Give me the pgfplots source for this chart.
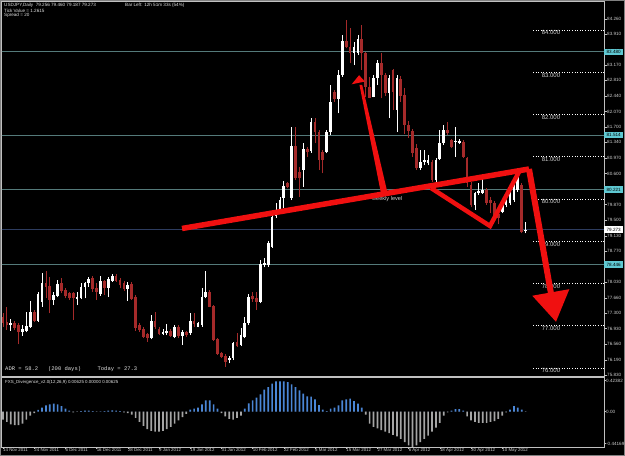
\documentclass[border=0pt]{standalone}
\usepackage{pgfplots}
\pgfplotsset{compat=1.18}
\usepackage{pgfplotstable}
\usetikzlibrary{arrows.meta}
\usepackage{fontspec}
\setmainfont{Liberation Sans}
\setmonofont{Liberation Mono}
\newcommand\fs[1]{\fontsize{#1}{#1}\selectfont}
\definecolor{bear}{RGB}{165,42,42}
\definecolor{teal1}{RGB}{84,122,122}
\definecolor{navyl}{RGB}{45,60,95}
\definecolor{frame}{RGB}{192,192,192}
\definecolor{txt}{RGB}{205,205,205}
\definecolor{hblue}{RGB}{74,134,214}
\definecolor{hgray}{RGB}{165,165,165}
\definecolor{boxteal}{RGB}{95,200,210}
\definecolor{arrowred}{RGB}{240,16,16}

\pgfplotstableread{
i o h l c
2 77.017 77.159 76.876 77.073
5 76.844 77.017 76.765 76.915
6 76.876 77.333 76.844 76.994
7 76.978 77.586 76.954 77.333
9 77.112 77.806 77.096 77.743
10 77.57 78.24 77.451 78.004
13 77.609 77.806 77.491 77.728
14 77.704 78.083 77.672 77.988
19 77.649 77.806 77.491 77.688
20 77.649 78.004 77.633 77.925
21 77.925 78.043 77.649 78.019
22 78.004 78.161 77.925 78.098
25 77.743 78.177 77.712 78.059
27 77.901 78.161 77.688 78.098
28 78.059 78.216 78.043 78.177
32 77.862 78.043 77.586 77.964
38 76.702 77.254 76.68 77.12
41 76.82 76.915 76.781 76.859
42 76.82 77.041 76.781 76.875
44 76.741 77.017 76.702 76.962
46 76.765 76.899 76.544 76.844
48 76.82 77.309 76.781 77.12
50 76.978 77.096 76.962 77.057
51 77.017 77.885 76.978 77.688
52 77.688 78.295 77.649 77.791
58 76.189 76.284 76.11 76.228
59 76.228 76.623 76.189 76.599
61 76.544 76.938 76.52 76.781
62 76.741 77.215 76.702 77.057
63 77.057 77.751 77.017 77.688
66 77.57 78.556 77.53 78.453
67 78.43 78.60 78.38 78.48
68 78.437 79.0 78.4 78.966
69 78.871 79.65 78.85 79.581
70 79.6 79.913 79.55 79.75
71 79.75 80.05 79.7 79.98
72 80.015 80.426 79.779 80.315
74 80.015 81.712 79.976 81.254
77 80.686 81.317 80.292 81.175
79 81.136 81.909 81.096 81.814
83 81.12 81.633 81.08 81.578
84 81.578 82.698 81.514 82.288
86 82.359 83.053 82.027 82.935
87 82.935 83.881 82.895 83.739
90 83.447 83.723 83.171 83.605
91 83.447 83.881 83.408 83.779
95 82.422 82.935 82.406 82.856
96 82.856 83.29 82.698 83.226
99 82.501 82.935 81.909 82.856
101 82.106 82.935 81.593 82.856
107 80.73 81.16 80.69 80.88
108 80.88 81.16 80.8 80.92
109 80.86 81.04 80.80 80.92
111 80.45 80.96 80.41 80.92
112 80.96 81.633 80.92 81.317
113 81.317 81.751 81.278 81.633
116 81.35 81.712 81.0 81.38
117 81.34 81.42 81.3 81.38
121 79.857 80.173 79.74 80.134
122 80.15 80.37 80.1 80.19
123 80.15 80.53 80.13 80.21
128 79.7 79.94 79.66 79.897
129 79.85 80.17 79.8 80.134
130 79.897 80.252 79.857 80.213
131 79.976 80.489 79.936 80.41
132 80.213 80.568 80.173 80.528
134 79.256 79.46 79.187 79.273
}\upc

\pgfplotstableread{
i o h l c
0 77.215 77.294 76.978 77.057
1 77.096 77.451 76.899 77.017
3 77.057 77.112 76.899 76.954
4 77.017 77.057 76.56 76.86
8 77.333 77.373 77.081 77.112
11 78.004 78.296 77.649 77.925
12 77.948 78.161 77.294 77.609
15 78.019 78.122 77.767 77.822
16 77.846 77.885 77.649 77.712
17 77.767 77.806 77.609 77.664
18 77.783 77.806 77.136 77.649
23 78.122 78.177 77.806 77.862
24 77.885 78.004 77.609 77.806
26 78.059 78.083 77.728 77.901
29 78.177 78.216 78.043 78.059
30 78.083 78.122 77.885 77.964
31 78.004 78.059 77.822 77.862
33 77.98 78.043 77.609 77.633
34 77.69 77.73 76.876 76.94
35 77.017 77.057 76.859 76.899
36 76.915 76.978 76.702 76.741
37 76.796 76.82 76.623 76.702
39 77.12 77.333 76.915 76.962
40 76.915 76.962 76.781 76.804
43 76.875 76.915 76.741 76.765
45 76.962 77.017 76.702 76.765
47 76.859 76.883 76.741 76.781
49 77.12 77.293 76.978 77.041
53 77.806 77.846 77.436 77.451
54 77.467 77.491 76.647 76.662
55 76.678 76.702 76.307 76.331
56 76.363 76.386 76.228 76.268
57 76.284 76.331 76.031 76.149
60 76.623 76.82 76.505 76.528
64 77.712 77.806 77.57 77.633
65 77.664 77.806 77.372 77.57
73 80.37 80.41 80.252 80.292
75 81.254 81.712 80.449 80.489
76 80.647 80.765 80.055 80.489
78 81.175 81.238 81.002 81.12
80 81.814 81.909 81.317 81.593
81 81.593 81.633 80.686 80.923
82 81.12 81.159 80.607 80.923
85 82.54 82.58 82.303 82.359
88 83.739 84.236 83.565 83.605
89 83.605 84.039 83.211 83.463
92 83.779 84.118 83.053 83.447
93 83.447 83.487 82.422 82.658
94 82.658 82.895 82.382 82.40
97 83.226 83.447 82.382 82.935
98 82.935 82.974 82.437 82.501
100 83.053 83.069 82.106 82.54
102 82.85 82.9 82.3 82.45
103 82.45 82.62 81.55 81.75
104 81.75 81.85 81.45 81.6
105 81.6 81.65 81.0 81.08
106 81.2 81.3 80.686 80.725
110 80.88 80.92 80.41 80.45
114 81.633 81.83 81.514 81.554
115 81.396 81.41 81.2 81.238
118 81.356 81.396 80.962 81.0
119 80.962 81.0 80.29 80.37
120 80.33 80.41 79.818 79.857
124 80.213 80.252 79.857 79.897
125 79.976 80.05 79.66 79.897
126 79.9 79.95 79.5 79.6
127 79.65 79.75 79.4 79.55
133 80.331 80.37 79.187 79.226
}\dnc

\pgfplotstableread{
i v
0 -0.10
1 -0.13
2 -0.16
3 -0.17
4 -0.17
5 -0.15
6 -0.10
7 -0.05
8 -0.02
9 0.02
10 0.049
11 0.078
12 0.09
13 0.099
14 0.09
15 0.066
16 0.037
17 0.01
18 -0.01
19 -0.005
20 0.005
21 0.01
22 0.01
23 0.005
24 -0.005
25 0.003
26 0.005
27 0.01
28 0.015
29 0.01
30 0.005
31 -0.01
32 -0.02
33 -0.04
34 -0.08
35 -0.13
36 -0.18
37 -0.22
38 -0.24
39 -0.25
40 -0.25
41 -0.24
42 -0.22
43 -0.19
44 -0.15
45 -0.11
46 -0.07
47 -0.03
48 0.025
49 0.037
50 0.049
51 0.09
52 0.14
53 0.14
54 0.09
55 0.037
56 -0.02
57 -0.06
58 -0.09
59 -0.10
60 -0.08
61 -0.05
62 0.037
63 0.10
64 0.14
65 0.173
66 0.214
67 0.272
68 0.304
69 0.346
70 0.374
71 0.374
72 0.374
73 0.366
74 0.337
75 0.304
76 0.263
77 0.222
78 0.19
79 0.185
80 0.15
81 0.08
82 0.025
83 0.005
84 0.037
85 0.049
86 0.078
87 0.14
88 0.152
89 0.16
90 0.131
91 0.099
92 0.049
93 -0.04
94 -0.15
95 -0.19
96 -0.21
97 -0.23
98 -0.25
99 -0.27
100 -0.29
101 -0.31
102 -0.34
103 -0.38
104 -0.42
105 -0.44
106 -0.42
107 -0.38
108 -0.34
109 -0.30
110 -0.25
111 -0.20
112 -0.14
113 -0.05
114 -0.01
115 0.01
116 0.03
117 0.03
118 0.01
119 -0.06
120 -0.11
121 -0.13
122 -0.14
123 -0.14
124 -0.14
125 -0.13
126 -0.12
127 -0.09
128 -0.05
129 -0.01
130 0.025
131 0.066
132 0.05
133 0.025
134 -0.005
}\hist

\begin{document}
\begin{tikzpicture}
\useasboundingbox (0,0) rectangle (625pt,456pt);
\fill[black] (0,0) rectangle (625pt,456pt);
\draw[gray, line width=1pt] (0.5pt,0.5pt) rectangle (624.5pt,455.5pt);

% ---------------- main price pane
\begin{axis}[
  at={(2pt,79.5pt)}, anchor=south west,
  scale only axis, width=602pt, height=375pt,
  xmin=-0.2564, xmax=154.1, ymin=75.799, ymax=84.6745,
  axis line style={draw=frame, line width=1pt},
  xtick=\empty,
  ytick pos=right, yticklabel pos=right,
  ytick={84.26,83.91,83.17,82.81,82.44,82.07,81.70,81.34,80.97,80.60,79.87,79.50,79.13,78.77,78.03,77.66,77.30,76.93,76.56,76.19,75.83},
  yticklabels={84.260,83.910,83.170,82.810,82.440,82.070,81.700,81.340,80.970,80.600,79.870,79.500,79.130,78.770,78.030,77.660,77.300,76.930,76.560,76.190,75.830},
  tick align=outside, major tick length=2.5pt,
  tick style={draw=frame, line width=0.5pt},
  yticklabel style={font=\fs{4.6}, text=txt, inner sep=0.5pt, anchor=west},
  /pgf/number format/assume math mode=true,
  clip mode=individual,
]
% horizontal level lines
\addplot[teal1, line width=1pt] coordinates {(-1,83.48) (156,83.48)};
\addplot[teal1, line width=1pt] coordinates {(-1,81.514) (156,81.514)};
\addplot[teal1, line width=1pt] coordinates {(-1,80.221) (156,80.221)};
\addplot[teal1, line width=1pt] coordinates {(-1,78.446) (156,78.446)};
\addplot[navyl, line width=0.8pt] coordinates {(-1,79.273) (156,79.273)};
% dotted round-number lines
\addplot[white, line width=0.6pt, dotted] coordinates {(135.9,84) (156,84)};
\addplot[white, line width=0.6pt, dotted] coordinates {(135.9,83) (156,83)};
\addplot[white, line width=0.6pt, dotted] coordinates {(135.9,82) (156,82)};
\addplot[white, line width=0.6pt, dotted] coordinates {(135.9,81) (156,81)};
\addplot[white, line width=0.6pt, dotted] coordinates {(135.9,80) (156,80)};
\addplot[white, line width=0.6pt, dotted] coordinates {(135.9,79) (156,79)};
\addplot[white, line width=0.6pt, dotted] coordinates {(135.9,78) (156,78)};
\addplot[white, line width=0.6pt, dotted] coordinates {(135.9,77) (156,77)};
\addplot[white, line width=0.6pt, dotted] coordinates {(135.9,76) (156,76)};
\node[font=\fs{6}, text=txt, anchor=north, inner sep=0.6pt] at (axis cs:140.5,84) {84.000};
\node[font=\fs{6}, text=txt, anchor=north, inner sep=0.6pt] at (axis cs:140.5,83) {83.000};
\node[font=\fs{6}, text=txt, anchor=north, inner sep=0.6pt] at (axis cs:140.5,82) {82.000};
\node[font=\fs{6}, text=txt, anchor=north, inner sep=0.6pt] at (axis cs:140.5,81) {81.000};
\node[font=\fs{6}, text=txt, anchor=north, inner sep=0.6pt] at (axis cs:140.5,80) {80.000};
\node[font=\fs{6}, text=txt, anchor=north, inner sep=0.6pt] at (axis cs:140.5,79) {79.000};
\node[font=\fs{6}, text=txt, anchor=north, inner sep=0.6pt] at (axis cs:140.5,78) {78.000};
\node[font=\fs{6}, text=txt, anchor=north, inner sep=0.6pt] at (axis cs:140.5,77) {77.000};
\node[font=\fs{6}, text=txt, anchor=north, inner sep=0.6pt] at (axis cs:140.5,76) {76.000};
% candles: wicks
\addplot[draw=none, mark=none, error bars/.cd, y dir=plus, y explicit, error mark=none,
  error bar style={draw=bear, line width=0.8pt}]
  table[x=i, y=l, y error expr=\thisrow{h}-\thisrow{l}] {\dnc};
\addplot[draw=none, mark=none, error bars/.cd, y dir=plus, y explicit, error mark=none,
  error bar style={draw=white, line width=0.8pt}]
  table[x=i, y=l, y error expr=\thisrow{h}-\thisrow{l}] {\upc};
% candles: bodies
\addplot[draw=none, mark=none, error bars/.cd, y dir=both, y explicit, error mark=none,
  error bar style={draw=bear, line width=2.7pt}]
  table[x=i, y expr=(\thisrow{o}+\thisrow{c})/2, y error expr={max(abs(\thisrow{c}-\thisrow{o})/2,0.012)}] {\dnc};
\addplot[draw=none, mark=none, error bars/.cd, y dir=both, y explicit, error mark=none,
  error bar style={draw=white, line width=2.7pt}]
  table[x=i, y expr=(\thisrow{o}+\thisrow{c})/2, y error expr={max(abs(\thisrow{c}-\thisrow{o})/2,0.012)}] {\upc};
% annotation text
\node[anchor=west, font=\fs{5.6}, text=txt, inner sep=0pt] at (axis cs:94.6,80.0) {weekly level};
% red annotations
\addplot[arrowred, line width=5.5pt] coordinates {(45.9,79.302) (134.87,80.71)};
\addplot[arrowred, line width=4.5pt, line join=miter] coordinates {(109.74,80.26) (124.87,79.361) (132.3,80.639)};
\addplot[fill=arrowred, draw=none] coordinates {(96.9,80.142) (98.6,80.142) (92.1,82.70) (91.4,82.70)} --cycle;
\addplot[fill=arrowred, draw=none] coordinates {(89.4,82.715) (91.3,82.93) (92.8,82.78)} --cycle;
\addplot[arrowred, line width=6pt, -{Triangle[length=30pt,width=36pt]}] coordinates {(134.87,80.71) (141.8,77.089)};
% price boxes
\node[fill=boxteal, text=black, font=\fs{4.6}, inner sep=0pt, minimum width=19pt, minimum height=6.5pt, anchor=west] at (axis cs:154.1,83.48) {83.480};
\node[fill=boxteal, text=black, font=\fs{4.6}, inner sep=0pt, minimum width=19pt, minimum height=6.5pt, anchor=west] at (axis cs:154.1,81.514) {81.514};
\node[fill=boxteal, text=black, font=\fs{4.6}, inner sep=0pt, minimum width=19pt, minimum height=6.5pt, anchor=west] at (axis cs:154.1,80.221) {80.221};
\node[fill=white, text=black, font=\fs{4.6}, inner sep=0pt, minimum width=19pt, minimum height=6.5pt, anchor=west] at (axis cs:154.1,79.273) {79.273};
\node[fill=boxteal, text=black, font=\fs{4.6}, inner sep=0pt, minimum width=19pt, minimum height=6.5pt, anchor=west] at (axis cs:154.1,78.446) {78.446};
\end{axis}

% ---------------- indicator pane
\begin{axis}[
  at={(2pt,9pt)}, anchor=south west,
  scale only axis, width=602pt, height=69.5pt,
  xmin=-0.2564, xmax=154.1, ymin=-0.44169, ymax=0.42382,
  axis line style={draw=frame, line width=1pt},
  xtick={0,8,...,128},
  xticklabels={14 Nov 2011,24 Nov 2011,6 Dec 2011,16 Dec 2011,28 Dec 2011,9 Jan 2012,19 Jan 2012,31 Jan 2012,10 Feb 2012,22 Feb 2012,5 Mar 2012,15 Mar 2012,27 Mar 2012,6 Apr 2012,18 Apr 2012,30 Apr 2012,10 May 2012},
  xtick pos=bottom,
  xticklabel style={anchor=north west, font=\fs{4.4}, text=txt, inner sep=0.5pt, xshift=-0.5pt, yshift=0.5pt},
  ytick pos=right, yticklabel pos=right,
  ytick={0.385,0,-0.40}, yticklabels={0.42382,0.00,-0.44169},
  yticklabel style={font=\fs{4.6}, text=txt, inner sep=0.5pt, anchor=west},
  tick align=outside, major tick length=1.5pt,
  tick style={draw=frame, line width=0.5pt},
  /pgf/number format/assume math mode=true,
]
\addplot[ybar, bar width=1.7pt, bar shift=0pt, fill=hblue, draw=none] table[x=i, y expr={max(\thisrow{v},0)}] {\hist};
\addplot[ybar, bar width=1.7pt, bar shift=0pt, fill=hgray, draw=none] table[x=i, y expr={min(\thisrow{v},0)}] {\hist};
\end{axis}

% ---------------- texts
\node[anchor=west, font=\fs{4.6}, text=white!88!black, inner sep=0pt] at (4pt,450.7pt) {USDJPY,Daily~~79.256 79.460 79.187 79.273};
\node[anchor=west, font=\fs{4.6}, text=white!88!black, inner sep=0pt] at (4pt,445.6pt) {Tick Value = 1.2615};
\node[anchor=west, font=\fs{4.6}, text=white!88!black, inner sep=0pt] at (4pt,440.3pt) {Spread = 20};
\node[anchor=west, font=\fs{4.6}, text=white!88!black, inner sep=0pt] at (125pt,450.7pt) {Bar Left: 12h 51m 33s (54\%)};
\node[anchor=west, font=\ttfamily\fs{5.5}, text=white!88!black, inner sep=0pt] at (5pt,86.5pt) {ADR~=~58.2~~~(200~days)~~~~~Today~=~27.3};
\node[anchor=west, font=\fs{4.4}, text=white!88!black, inner sep=0pt] at (5pt,74pt) {FXS\_Divergence\_v2.0(12,26,9) 0.00625 0.00000 0.00625};
\end{tikzpicture}
\end{document}
